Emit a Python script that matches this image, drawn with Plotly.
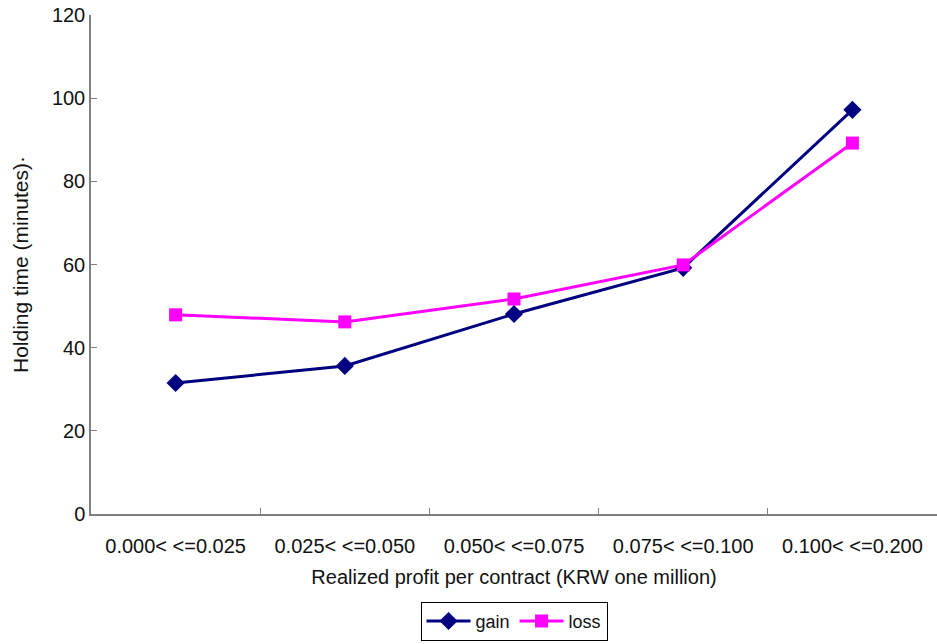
import plotly.graph_objects as go

categories = ["0.000&lt; &lt;=0.025", "0.025&lt; &lt;=0.050", "0.050&lt; &lt;=0.075",
              "0.075&lt; &lt;=0.100", "0.100&lt; &lt;=0.200"]
gain = [31.5, 35.6, 48.1, 59.2, 97.2]
loss = [47.9, 46.2, 51.7, 59.9, 89.2]
y_ticks = [0, 20, 40, 60, 80, 100, 120]

font_family = "Liberation Sans Narrow, Liberation Sans, Arial, sans-serif"

fig = go.Figure()
fig.add_trace(go.Scatter(
    x=categories, y=gain, name="gain", mode="lines+markers",
    line=dict(color="#000080", width=3),
    marker=dict(symbol="diamond", size=14, color="#000080"),
))
fig.add_trace(go.Scatter(
    x=categories, y=loss, name="loss", mode="lines+markers",
    line=dict(color="#FF00FF", width=3),
    marker=dict(symbol="square", size=13, color="#FF00FF"),
))

fig.update_layout(
    width=937, height=644,
    margin=dict(l=91, r=0, t=15, b=130, autoexpand=False),
    plot_bgcolor="white", paper_bgcolor="white",
    font=dict(family=font_family, size=20, color="#111111"),
    showlegend=True,
    legend=dict(
        orientation="h",
        xref="container", x=0.5486, xanchor="center",
        yref="container", y=0.005, yanchor="bottom",
        bordercolor="#000000", borderwidth=1, bgcolor="white",
        font=dict(size=18), tracegroupgap=0, itemwidth=44,
    ),
    xaxis=dict(
        type="category", tickson="boundaries",
        showline=True, linecolor="#808080", linewidth=1.5,
        ticks="inside", ticklen=6, tickcolor="#808080",
        showgrid=False, zeroline=False, automargin=False,
        ticklabelstandoff=13,
        range=[-0.5, 4.5],
        title=dict(text="Realized profit per contract (KRW one million)",
                   standoff=14, font=dict(size=20)),
    ),
    yaxis=dict(
        range=[0, 120], tickvals=y_ticks,
        showline=True, linecolor="#808080", linewidth=1.5,
        ticks="inside", ticklen=6, tickcolor="#808080",
        showgrid=False, zeroline=False, automargin=False,
        title=dict(text="Holding time (minutes)·", standoff=18, font=dict(size=21)),
    ),
)

fig.write_html("out.html")
